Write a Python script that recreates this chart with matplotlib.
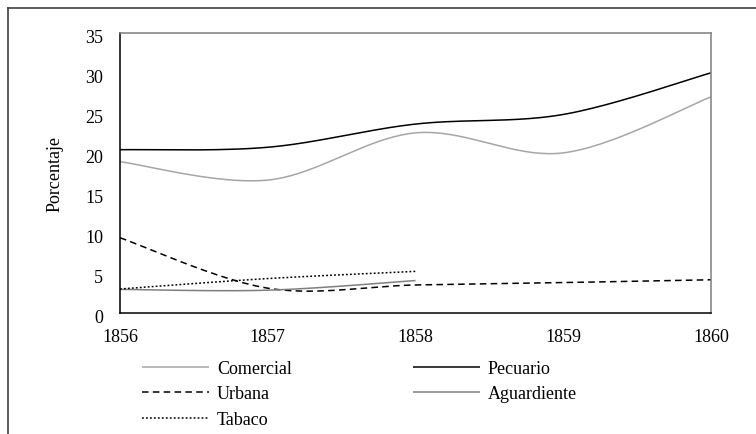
import numpy as np
import matplotlib
matplotlib.use("Agg")
import matplotlib.pyplot as plt
from matplotlib.lines import Line2D
from matplotlib.transforms import ScaledTranslation

plt.rcParams['font.family'] = ['Liberation Serif', 'DejaVu Serif']

# ---- data ----
years = [1856, 1857, 1858, 1859, 1860]
years_short = [1856, 1857, 1858]
comercial = [18.9, 16.6, 22.5, 20.0, 27.0]
pecuario = [20.4, 20.7, 23.6, 24.8, 30.0]
urbana = [9.4, 3.1, 3.5, 3.8, 4.15]
aguardiente = [2.95, 2.85, 4.05]
tabaco = [3.0, 4.3, 5.2]
yticks = [0, 5, 10, 15, 20, 25, 30, 35]
xticks = [1856, 1857, 1858, 1859, 1860]


def smooth(xs, ys, n=40):
    """Excel-style smoothed line (Catmull-Rom Bezier)."""
    xs = np.asarray(xs, float)
    ys = np.asarray(ys, float)
    px = np.concatenate([[xs[0]], xs, [xs[-1]]])
    py = np.concatenate([[ys[0]], ys, [ys[-1]]])
    ox, oy = [], []
    t = np.linspace(0, 1, n)
    for i in range(1, len(px) - 2):
        p0x, p1x, p2x, p3x = px[i - 1], px[i], px[i + 1], px[i + 2]
        p0y, p1y, p2y, p3y = py[i - 1], py[i], py[i + 1], py[i + 2]
        c1x = p1x + (p2x - p0x) / 6
        c1y = p1y + (p2y - p0y) / 6
        c2x = p2x - (p3x - p1x) / 6
        c2y = p2y - (p3y - p1y) / 6
        bx = (1 - t) ** 3 * p1x + 3 * (1 - t) ** 2 * t * c1x + 3 * (1 - t) * t ** 2 * c2x + t ** 3 * p2x
        by = (1 - t) ** 3 * p1y + 3 * (1 - t) ** 2 * t * c1y + 3 * (1 - t) * t ** 2 * c2y + t ** 3 * p2y
        ox.extend(bx)
        oy.extend(by)
    return np.array(ox), np.array(oy)


W, H = 756, 435
fig = plt.figure(figsize=(W / 100, H / 100), dpi=100)
ax = fig.add_axes([120 / W, 1 - 314 / H, (711 - 120) / W, (314 - 33.8) / H])

lw = 1.1
series = [
    ("Comercial", years, comercial, dict(color="#a6a6a6", ls="-")),
    ("Pecuario", years, pecuario, dict(color="#000000", ls="-")),
    ("Urbana", years, urbana, dict(color="#000000", ls=(0, (4.3, 2.8)))),
    ("Aguardiente", years_short, aguardiente, dict(color="#7f7f7f", ls="-")),
    ("Tabaco", years_short, tabaco, dict(color="#000000", ls=(0, (1.2, 1.4)))),
]
handles = {}
for name, xs, ys, st in series:
    sx, sy = smooth(xs, ys)
    (ln,) = ax.plot(sx, sy, lw=lw, solid_capstyle="butt", dash_capstyle="butt", **st)
    handles[name] = ln

ax.set_xlim(1856, 1860)
ax.set_ylim(0, 35)
ax.set_xticks(xticks)
ax.set_xticklabels([str(v) for v in xticks])
ax.set_yticks(yticks)
ax.set_yticklabels([str(v) for v in yticks])
ax.tick_params(axis="both", length=0, labelsize=13, colors="#000000")
ax.tick_params(axis="y", pad=12)
ax.tick_params(axis="x", pad=11)
for lab in ax.get_yticklabels():
    lab.set_transform(lab.get_transform() + ScaledTranslation(0, -0.03, fig.dpi_scale_trans))

for side in ["left", "bottom"]:
    ax.spines[side].set_color("#000000")
    ax.spines[side].set_linewidth(1.1)
for side in ["top", "right"]:
    ax.spines[side].set_color("#7f7f7f")
    ax.spines[side].set_linewidth(1.1)

ax.set_ylabel("Porcentaje", fontsize=13)
ax.yaxis.set_label_coords(-(120 - 64) / (711 - 120), 0.5)

order = ["Comercial", "Urbana", "Tabaco", "Pecuario", "Aguardiente"]
leg = fig.legend([handles[k] for k in order], order, ncol=2, frameon=False,
                 loc="upper left", bbox_to_anchor=(142 / W, 1 - 361 / H),
                 fontsize=13, handlelength=3.7, handletextpad=0.45,
                 columnspacing=6.7, labelspacing=0.47, borderpad=0, borderaxespad=0)

# outer frame (left and top edges)
fig.add_artist(Line2D([7.5 / W, 7.5 / W], [0, 1 - 9.3 / H], transform=fig.transFigure,
                      color="#404040", lw=1.2))
fig.add_artist(Line2D([7.5 / W, 1], [1 - 9.3 / H, 1 - 9.3 / H], transform=fig.transFigure,
                      color="#404040", lw=1.2))

fig.savefig("out.png", dpi=100)
